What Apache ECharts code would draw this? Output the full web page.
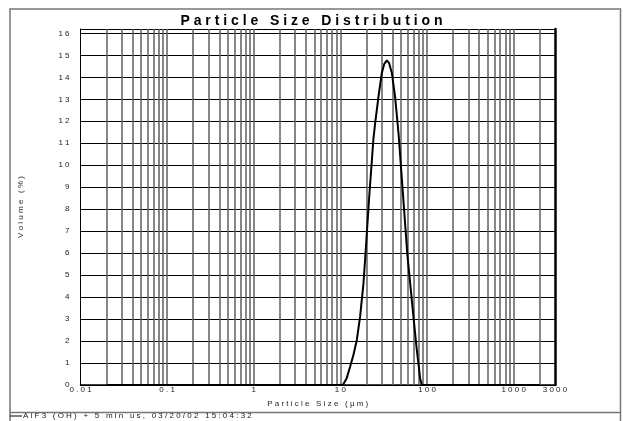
<!DOCTYPE html>
<html>
<head>
<meta charset="utf-8">
<script src="https://cdn.jsdelivr.net/npm/echarts@6/dist/echarts.min.js"></script>
<style>
  html, body { margin: 0; padding: 0; background: #fff; }
  #chart { width: 623px; height: 421px; }
</style>
</head>
<body>
<div id="chart"></div>
<script>
// Particle sizes (µm) and volume fraction (%) of the measured distribution
const sizes   = [0.02, 10.66, 11.8, 12.94, 14.2, 15.47, 16.87, 18.44, 19.28, 21.45, 24.05, 25.17, 27.47, 30.07, 32.0, 34.35, 36.5, 39.24, 42.83, 47.0, 59.4, 69.7, 76.2, 80.5, 83.2, 87.1, 2000];
const volumes = [0,    0,     0.3,  0.83,  1.4,  2.05,  3.1,   4.6,   5.7,   8.5,   11.2,  11.9,  13.1,  14.2,  14.6, 14.77, 14.65, 14.2,  13.1,  11.4, 5.9,  3.1,  1.6,  0.8,  0.3,  0,    0];

// Axis ranges and tick labels
const xMin = 0.01, xMax = 3000;
const yMin = 0, yMax = 16.2;
const xTickLabels = ['0.01', '0.1', '1', '10', '100', '1000', '3000'];

const seriesName = 'AlF3 (OH) + 5 min us, 03/20/02 15:04:32';
const titleText = 'Particle Size Distribution';
const xName = 'Particle Size (µm)';
const yName = 'Volume (%)';

// letter-spaced text as printed by the instrument software
function spaced(s) {
  return s.split(' ').map(w => w.split('').join(' ')).join('   ');
}

// 1..9 × 10^k gridlines inside the axis range
const gridSizes = [];
for (let d = -2; d <= 3; d++) {
  for (let k = 1; k <= 9; k++) {
    const v = Number((k * Math.pow(10, d)).toPrecision(6));
    if (v > xMin && v < xMax) gridSizes.push(v);
  }
}

const font = 'Liberation Sans, Arial, sans-serif';
const chart = echarts.init(document.getElementById('chart'));

chart.setOption({
  animation: false,
  backgroundColor: '#fff',
  title: {
    text: spaced(titleText),
    left: 'center',
    top: 9,
    textStyle: { fontFamily: font, fontWeight: 'bold', fontSize: 14, color: '#000' }
  },
  legend: {
    left: 10,
    top: 412,
    padding: 0,
    itemWidth: 12,
    itemHeight: 8,
    textStyle: { fontFamily: font, fontSize: 8, color: '#222', padding: [1, 0, 0, -4] },
    data: [{ name: seriesName, icon: 'path://M0,7 L12,7 L12,8 L0,8 Z' }],
    formatter: n => spaced(n)
  },
  grid: { left: 80.5, right: 68, top: 29, bottom: 36 },
  xAxis: [{
    type: 'log',
    logBase: 10,
    min: xMin,
    max: xMax,
    name: spaced(xName),
    nameLocation: 'middle',
    nameGap: 15,
    nameTextStyle: { fontFamily: font, fontSize: 8, color: '#222' },
    axisLine: { lineStyle: { color: '#000', width: 1.5 } },
    axisTick: { show: false },
    splitLine: { show: false },
    axisLabel: {
      fontFamily: font, fontSize: 8, color: '#222', margin: 1,
      showMinLabel: true, showMaxLabel: true,
      formatter: v => {
        const s = String(Number(Number(v).toPrecision(4)));
        return xTickLabels.indexOf(s) >= 0 ? spaced(s) : '';
      }
    }
  }, {
    type: 'log',
    logBase: 10,
    min: xMin,
    max: xMax,
    position: 'top',
    axisLine: { show: true, lineStyle: { color: '#000', width: 1 } },
    axisTick: { show: false },
    axisLabel: { show: false },
    splitLine: { show: false }
  }],
  yAxis: [{
    type: 'value',
    min: yMin,
    max: yMax,
    interval: 1,
    name: spaced(yName),
    nameLocation: 'middle',
    nameGap: 56,
    nameTextStyle: { fontFamily: font, fontSize: 8, color: '#222' },
    axisLine: { show: true, lineStyle: { color: '#000', width: 1 } },
    axisTick: { show: false },
    axisLabel: {
      fontFamily: font, fontSize: 8, color: '#222', margin: 11,
      showMaxLabel: false,
      formatter: v => spaced(String(v))
    },
    splitLine: { show: true, lineStyle: { color: '#000', width: 1 } }
  }, {
    type: 'value',
    min: yMin,
    max: yMax,
    position: 'right',
    axisLine: { show: true, lineStyle: { color: '#000', width: 2.5 } },
    axisTick: { show: false },
    axisLabel: { show: false },
    splitLine: { show: false }
  }],
  series: [{
    name: seriesName,
    type: 'line',
    data: sizes.map((s, i) => [s, volumes[i]]),
    symbol: 'none',
    smooth: false,
    lineStyle: { color: '#000', width: 2 },
    itemStyle: { color: '#000' },
    z: 5,
    markLine: {
      silent: true,
      symbol: 'none',
      label: { show: false },
      lineStyle: { color: '#5f5f5f', width: 1.5, type: 'solid' },
      data: gridSizes.map(v => ({ xAxis: v })),
      z: 1
    }
  }],
  graphic: [{
    type: 'rect',
    shape: { x: 10, y: 9, width: 610.5, height: 420 },
    style: { fill: 'none', stroke: '#777', lineWidth: 1.5 },
    silent: true
  }, {
    type: 'line',
    shape: { x1: 10, y1: 412.5, x2: 621, y2: 412.5 },
    style: { stroke: '#777', lineWidth: 1.5 },
    silent: true
  }]
});
</script>
</body>
</html>
